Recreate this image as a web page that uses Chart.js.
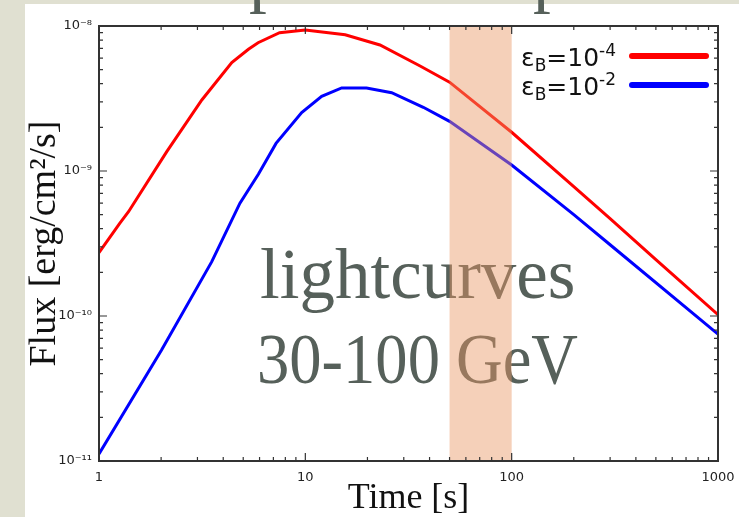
<!DOCTYPE html>
<html>
<head>
<meta charset="utf-8">
<title>lightcurves 30-100 GeV</title>
<script src="https://cdn.jsdelivr.net/npm/chart.js@4.4.1/dist/chart.umd.min.js"></script>
<style>
	html, body { margin: 0; padding: 0; }
	body { width: 739px; height: 517px; overflow: hidden; position: relative; background: #e0e0d1; }
	#sheet { position: absolute; left: 25px; top: 4px; right: 0; bottom: 0; background: #fff; }
	#myChart { position: absolute; left: 0; top: 0; }
</style>
</head>
<body>
<div id="sheet"></div>
<canvas id="myChart" width="739" height="517"></canvas>
<script>
window.addEventListener('load', setup);

// time [s] and flux [erg/cm2/s]
var redTime = [1, 1.26, 1.39, 2.13, 3.15, 4.4, 5.3, 5.9, 7.5, 10, 15.6, 23, 36, 50, 100, 200, 300, 500, 1000];
var redFlux = [2.74e-10, 4.36e-10, 5.24e-10, 1.36e-9, 3.09e-9, 5.59e-9, 6.91e-9, 7.67e-9, 9.0e-9, 9.38e-9, 8.7e-9, 7.4e-9, 5.3e-9, 4.1e-9, 1.85e-9, 7.8e-10, 4.7e-10, 2.45e-10, 1.02e-10];

var blueTime = [1, 2.01, 3.52, 4.82, 5.92, 7.21, 9.6, 12, 15, 19.8, 26.2, 37.3, 50, 100, 200, 300, 1000];
var blueFlux = [1.12e-11, 5.83e-11, 2.37e-10, 6.0e-10, 9.5e-10, 1.55e-9, 2.53e-9, 3.27e-9, 3.74e-9, 3.74e-9, 3.47e-9, 2.75e-9, 2.2e-9, 1.1e-9, 5.0e-10, 3.1e-10, 7.5e-11];

var seriesExp = ["-4", "-2"];
var seriesColors = ["#ff0000", "#0000ff"];

var timeTicks = [1, 10, 100, 1000];
var fluxTicks = [1e-11, 1e-10, 1e-9, 1e-8];
var bandRange = [50, 100];

var overlayLines = ["lightcurves", "30-100 GeV"];
var titleGlyphs = ["p", "p"];

var supChars = {"-": "\u207B", "0": "\u2070", "1": "\u00B9", "2": "\u00B2", "3": "\u00B3", "4": "\u2074",
	"5": "\u2075", "6": "\u2076", "7": "\u2077", "8": "\u2078", "9": "\u2079"};

function toSup(s){
	return s.split("").map(function(c){ return supChars[c]; }).join("");
}

function toPoints(xs, ys){
	var pts = [];
	for (var i = 0; i < xs.length; i++){
		pts.push({x: xs[i], y: ys[i]});
	}
	return pts;
}

var overlay = {
	id: 'overlay',
	afterDatasetsDraw: function(chart){
		var ctx = chart.ctx;
		var area = chart.chartArea;
		var xs = chart.scales.x;
		var ys = chart.scales.y;
		ctx.save();

		// slide text on top of the plot
		ctx.fillStyle = "#56605a";
		ctx.textAlign = "left";
		ctx.textBaseline = "alphabetic";
		ctx.font = "71px 'Liberation Serif', serif";
		ctx.fillText(overlayLines[0], 260, 298, 316);
		ctx.fillText(overlayLines[1], 257, 383, 321);
		ctx.fillText(titleGlyphs[0], 249, -1);
		ctx.fillText(titleGlyphs[1], 533, -1);

		// time window band
		var b0 = xs.getPixelForValue(bandRange[0]);
		var b1 = xs.getPixelForValue(bandRange[1]);
		ctx.fillStyle = "rgba(233,151,99,0.45)";
		ctx.fillRect(b0, area.top, b1 - b0, area.bottom - area.top);

		// frame
		ctx.strokeStyle = "#333";
		ctx.lineWidth = 2;
		ctx.strokeRect(area.left, area.top, area.right - area.left, area.bottom - area.top);

		// inward ticks on all four sides
		ctx.lineWidth = 1.2;
		ctx.beginPath();
		for (var d = 0; d < 3; d++){
			for (var k = 1; k < 10; k++){
				var px = xs.getPixelForValue(k * timeTicks[d]);
				var len = k == 1 ? 8 : 4;
				ctx.moveTo(px, area.bottom); ctx.lineTo(px, area.bottom - len);
				ctx.moveTo(px, area.top); ctx.lineTo(px, area.top + len);
			}
		}
		for (var d = 0; d < 3; d++){
			for (var k = 1; k < 10; k++){
				var py = ys.getPixelForValue(k * fluxTicks[d]);
				var len = k == 1 ? 8 : 4;
				ctx.moveTo(area.left, py); ctx.lineTo(area.left + len, py);
				ctx.moveTo(area.right, py); ctx.lineTo(area.right - len, py);
			}
		}
		ctx.stroke();

		// legend with sub/superscripts
		var big = "25px 'DejaVu Sans', sans-serif";
		var small = "17px 'DejaVu Sans', sans-serif";
		chart.data.datasets.forEach(function(ds, i){
			var base = 66 + i * 29;
			var parts = [
				{t: "\u03B5", f: big, dy: 0},
				{t: "B", f: small, dy: 5},
				{t: "=10", f: big, dy: 0},
				{t: seriesExp[i], f: small, dy: -10}
			];
			var total = 0;
			parts.forEach(function(p){ ctx.font = p.f; p.w = ctx.measureText(p.t).width; total += p.w; });
			var x = 616 - total;
			ctx.fillStyle = "#111";
			parts.forEach(function(p){ ctx.font = p.f; ctx.fillText(p.t, x, base + p.dy); x += p.w; });
			ctx.strokeStyle = ds.borderColor;
			ctx.lineWidth = 6;
			ctx.lineCap = "round";
			ctx.beginPath();
			ctx.moveTo(632, base - 10);
			ctx.lineTo(706, base - 10);
			ctx.stroke();
		});

		ctx.restore();
	}
};

function setup(){
	var ctx = document.getElementById("myChart");
	var myChart = new Chart(ctx, {
		type: 'line',
		data: {
			datasets: [
				{
					label: '\u03B5B=10' + seriesExp[0],
					data: toPoints(redTime, redFlux),
					borderColor: seriesColors[0],
					borderWidth: 3,
					pointRadius: 0,
					tension: 0,
					fill: false
				}, {
					label: '\u03B5B=10' + seriesExp[1],
					data: toPoints(blueTime, blueFlux),
					borderColor: seriesColors[1],
					borderWidth: 3,
					pointRadius: 0,
					tension: 0,
					fill: false
				}
			]
		},
		options: {
			responsive: false,
			animation: false,
			devicePixelRatio: 1,
			layout: { padding: { left: 25, right: 21, top: 26, bottom: 0 } },
			plugins: { legend: { display: false }, tooltip: { enabled: false } },
			scales: {
				x: {
					type: 'logarithmic',
					min: 1,
					max: 1000,
					afterBuildTicks: function(scale){
						scale.ticks = timeTicks.map(function(v){ return {value: v}; });
					},
					afterFit: function(scale){
						scale.height = 56;
						scale.paddingLeft = 0;
						scale.paddingRight = 0;
					},
					grid: { display: false, drawTicks: false },
					border: { display: false },
					ticks: {
						autoSkip: false,
						maxRotation: 0,
						padding: 9,
						color: "#222",
						font: { family: "'DejaVu Sans', sans-serif", size: 13 },
						callback: function(value){ return String(value); }
					},
					title: {
						display: true,
						text: "Time [s]",
						color: "#111",
						padding: 0,
						font: { family: "'Liberation Serif', serif", size: 36, lineHeight: 1 }
					}
				},
				y: {
					type: 'logarithmic',
					min: 1e-11,
					max: 1e-8,
					afterBuildTicks: function(scale){
						scale.ticks = fluxTicks.map(function(v){ return {value: v}; });
					},
					afterFit: function(scale){
						scale.width = 74;
						scale.paddingTop = 0;
						scale.paddingBottom = 0;
					},
					grid: { display: false, drawTicks: false },
					border: { display: false },
					ticks: {
						autoSkip: false,
						padding: 7,
						color: "#222",
						font: { family: "'DejaVu Sans', sans-serif", size: 13 },
						callback: function(value){
							return "10" + toSup(String(Math.round(Math.log10(value))));
						}
					},
					title: {
						display: true,
						text: "Flux [erg/cm\u00B2/s]",
						color: "#111",
						padding: { top: 1, bottom: 0 },
						font: { family: "'Liberation Serif', serif", size: 38, lineHeight: 1 }
					}
				}
			}
		},
		plugins: [overlay]
	});
}
</script>
</body>
</html>
